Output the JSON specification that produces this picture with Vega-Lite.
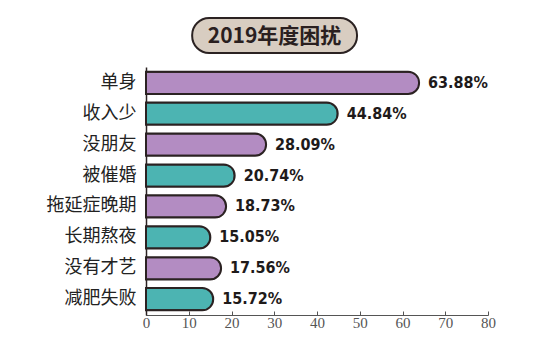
{
  "$schema": "https://vega.github.io/schema/vega-lite/v6.json",
  "background": "white",
  "padding": {"left": 46, "top": 17, "right": 5, "bottom": 5},
  "config": {"view": {"stroke": null}},
  "spacing": 13,
  "vconcat": [
    {
      "width": 342,
      "height": 35,
      "data": {"values": [{"t": "2019年度困扰", "a": 0.135, "b": 0.617, "m": 0.376}]},
      "layer": [
        {
          "mark": {"type": "rect", "fill": "#d8cdc1", "stroke": "#2b2222", "strokeWidth": 2, "cornerRadius": 17},
          "encoding": {
            "x": {"field": "a", "type": "quantitative", "scale": {"domain": [0, 1]}, "axis": null},
            "x2": {"field": "b"}
          }
        },
        {
          "mark": {"type": "text", "font": "Noto Sans CJK SC", "fontWeight": "bold", "fontSize": 21, "color": "#2a1f1f", "align": "center", "baseline": "middle", "dy": 1},
          "encoding": {
            "x": {"field": "m", "type": "quantitative"},
            "text": {"field": "t"}
          }
        }
      ]
    },
    {
      "width": 342,
      "height": 248,
      "data": {"values": [
        {"k": "单身", "v": 63.88, "lab": "63.88%", "g": "a"},
        {"k": "收入少", "v": 44.84, "lab": "44.84%", "g": "b"},
        {"k": "没朋友", "v": 28.09, "lab": "28.09%", "g": "a"},
        {"k": "被催婚", "v": 20.74, "lab": "20.74%", "g": "b"},
        {"k": "拖延症晚期", "v": 18.73, "lab": "18.73%", "g": "a"},
        {"k": "长期熬夜", "v": 15.05, "lab": "15.05%", "g": "b"},
        {"k": "没有才艺", "v": 17.56, "lab": "17.56%", "g": "a"},
        {"k": "减肥失败", "v": 15.72, "lab": "15.72%", "g": "b"}
      ]},
      "encoding": {
        "y": {"field": "k", "type": "nominal", "sort": null, "title": null,
          "scale": {"paddingInner": 0.28, "paddingOuter": 0.15},
          "axis": {"domainColor": "#2b2222", "domainWidth": 1.5, "ticks": false, "labelPadding": 10,
            "labelFont": "Noto Sans CJK SC", "labelFontSize": 18, "labelColor": "#222", "labelLimit": 200}},
        "x": {"field": "v", "type": "quantitative", "title": null,
          "scale": {"domain": [0, 80], "nice": false},
          "axis": {"values": [0,10,20,30,40,50,60,70,80], "grid": false, "domainColor": "#555", "tickColor": "#555",
            "tickSize": -4, "labelFont": "Liberation Serif", "labelFontSize": 15, "labelColor": "#555", "labelPadding": 4, "labelFlush": false}}
      },
      "layer": [
        {
          "mark": {"type": "bar", "cornerRadiusEnd": 11, "stroke": "#2b2222", "strokeWidth": 2},
          "encoding": {
            "color": {"field": "g", "type": "nominal", "legend": null,
              "scale": {"domain": ["a", "b"], "range": ["#b38cc2", "#4cb4b2"]}}
          }
        },
        {
          "mark": {"type": "text", "align": "left", "baseline": "middle", "dx": 9, "font": "DejaVu Sans Condensed", "fontWeight": "bold", "fontSize": 16, "color": "#1e1a1a"},
          "encoding": {"text": {"field": "lab"}}
        }
      ]
    }
  ]
}
